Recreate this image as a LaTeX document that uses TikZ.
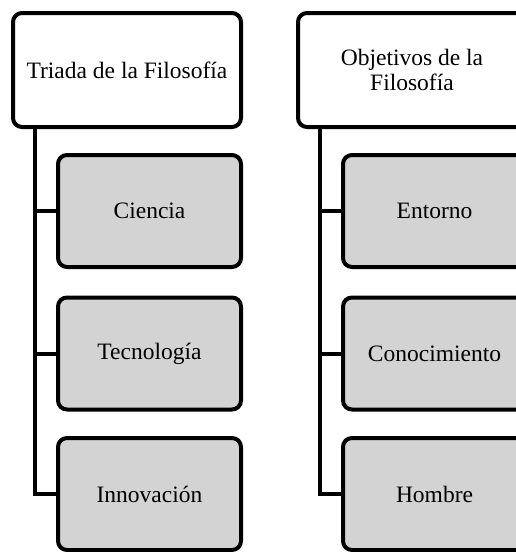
\documentclass[tikz,border=0pt]{standalone}
\usepackage{fontspec}
\setmainfont{Liberation Serif}
\usepackage{tikz}
\usetikzlibrary{positioning,calc}

\definecolor{boxgray}{RGB}{211,211,211}

\begin{document}
\begin{tikzpicture}[x=1pt,y=-1pt,
    head/.style={draw, line width=4pt, rounded corners=9pt, fill=white,
                 minimum width=228pt, minimum height=114pt, inner sep=0pt,
                 align=center, font=\fontsize{23.5}{25}\selectfont},
    item/.style={head, fill=boxgray, minimum width=183pt, minimum height=112pt},
    link/.style={line width=4pt}]
    \useasboundingbox (0,0) rectangle (515,552);

    % left column
    \node[head] (tl) at (127,70)    {Triada de la Filosofía};
    \node[item] (c1) at (149.5,211) {Ciencia};
    \node[item] (c2) at (149.5,353.5) {Tecnología};
    \node[item] (c3) at (149.5,494) {Innovación};
    \coordinate (lx) at (35,0);

    % right column
    \node[head] (tr) at (412,70)    {Objetivos de la\\Filosofía};
    \node[item] (o1) at (434.5,211) {Entorno};
    \node[item] (o2) at (434.5,353.5) {Conocimiento};
    \node[item] (o3) at (434.5,494) {Hombre};
    \coordinate (rx) at (320,0);

    \draw[link] (tl.south -| lx) |- (c3.west);
    \draw[link] (c1.west -| lx) -- (c1.west);
    \draw[link] (c2.west -| lx) -- (c2.west);

    \draw[link] (tr.south -| rx) |- (o3.west);
    \draw[link] (o1.west -| rx) -- (o1.west);
    \draw[link] (o2.west -| rx) -- (o2.west);
\end{tikzpicture}
\end{document}
